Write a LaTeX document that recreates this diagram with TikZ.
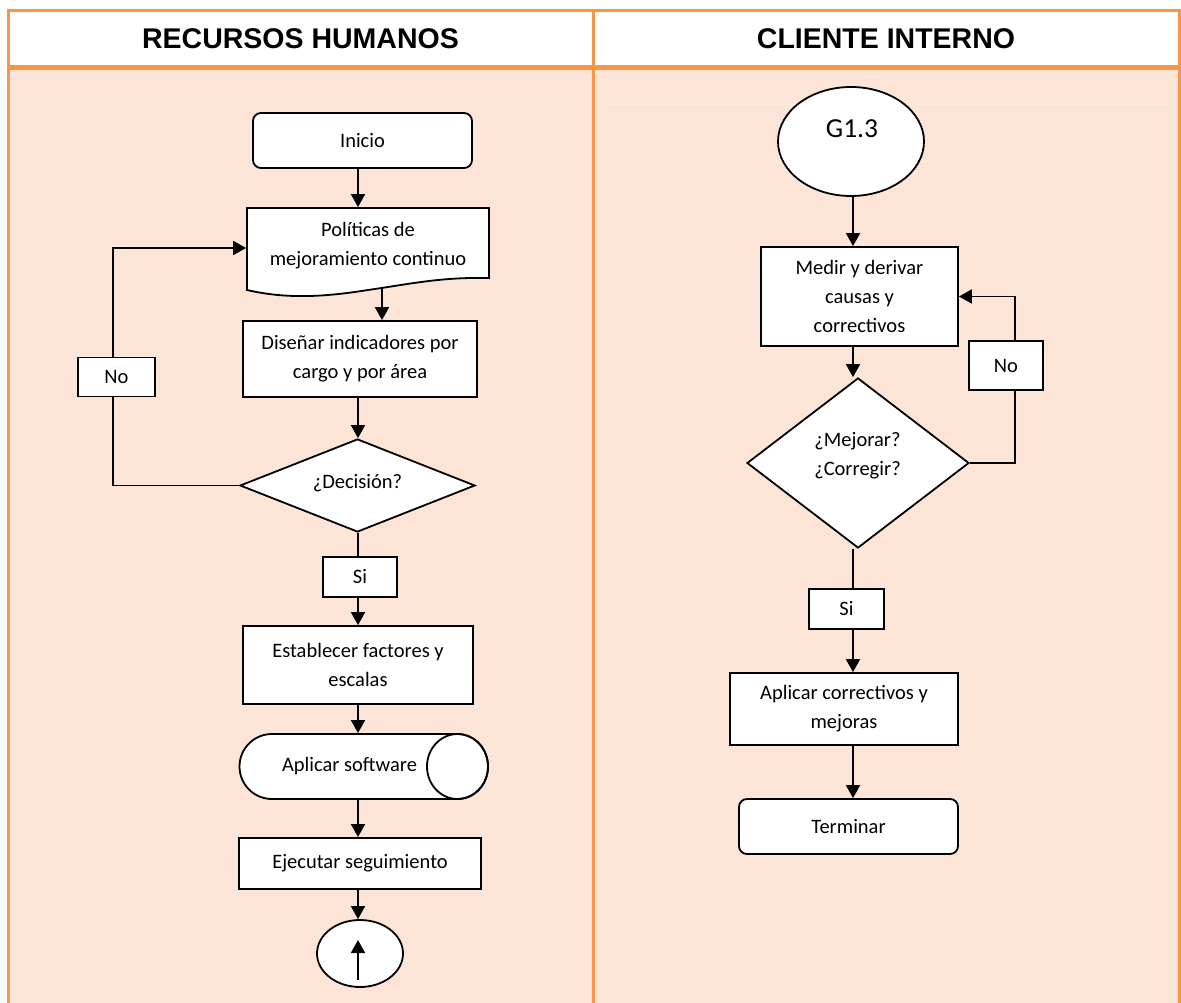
\documentclass[tikz,border=0pt]{standalone}
\usepackage{fontspec}
\setmainfont{Carlito}
\newfontfamily\hdrfont{Liberation Sans}
\usetikzlibrary{arrows.meta,shapes.geometric,calc}
\definecolor{orng}{HTML}{F79646}
\definecolor{peach}{HTML}{FCE4D6}
\definecolor{peachlt}{HTML}{FDEEE5}
\begin{document}
\begin{tikzpicture}[x=1pt,y=-1pt,line width=1.8pt,
  txt/.style={font=\fontsize{20.5}{29}\selectfont, align=center},
  box/.style={txt, draw, fill=white, rectangle, inner sep=0pt},
  rbox/.style={box, rounded corners=8pt},
  ghost/.style={rectangle, draw=none, inner sep=0pt},
  dia/.style={diamond, draw, fill=white, inner sep=0pt},
  ell/.style={ellipse, draw, fill=white, inner sep=0pt},
  arr/.style={-{Triangle[length=13pt,width=14pt]}},
  hdr/.style={font=\hdrfont\bfseries\fontsize{28.5}{32}\selectfont}]
\useasboundingbox (0,0) rectangle (1181,1003);
% table
\fill[white] (0,0) rectangle (1181,1003);
\fill[peach] (8,68) rectangle (1179,1003);
\draw[peachlt, line width=1pt] (607,105) -- (1167,105);
\draw[orng, line width=3pt] (8,1003) -- (8,11) -- (1179,11) -- (1179,1003);
\draw[orng, line width=3pt] (593,11) -- (593,1003);
\draw[orng, line width=5pt] (8,68) -- (1179,68);
\node[hdr] (h1) at (300.5,39) {RECURSOS HUMANOS};
\node[hdr] (h2) at (886,39) {CLIENTE INTERNO};

\coordinate (L) at (358,0);
\coordinate (R) at (853,0);

% ---------- left column ----------
\node[rbox, minimum width=219pt, minimum height=55pt] (ini) at (362.5,140.5) {Inicio};
\node[ghost, minimum width=242pt, minimum height=82pt] (pol) at (368,249) {};
\draw[fill=white] (247,208) -- (489,208) -- (489,278)
  .. controls (440,277) and (410,284) .. (368,290)
  .. controls (330,296) and (290,300) .. (247,290) -- cycle;
\node[txt] (polt) at (368,246) {Políticas de\\mejoramiento continuo};
\node[box, minimum width=234pt, minimum height=76pt] (dis) at (360,359) {Diseñar indicadores por\\cargo y por área};
\node[dia, minimum width=235pt, minimum height=93pt] (dec) at (357.5,485.5) {};
\node[txt] (dect) at (357.5,483) {¿Decisión?};
\node[box, minimum width=74pt, minimum height=40pt] (si1) at (360,577) {Si};
\node[box, minimum width=230pt, minimum height=78pt] (est) at (358,665) {Establecer factores y\\escalas};
\node[ghost, minimum width=249pt, minimum height=65pt] (soft) at (363.5,766.5) {};
\draw[fill=white] (272,734) -- (457.5,734)
  arc[start angle=-90, end angle=90, x radius=30.5, y radius=32.5]
  -- (272,799) arc[start angle=90, end angle=270, radius=32.5] -- cycle;
\draw (457.5,766.5) ellipse[x radius=30.5, y radius=32.5];
\node[txt] (softt) at (349.5,766.5) {Aplicar software};
\node[box, minimum width=242pt, minimum height=51pt] (eje) at (360,863.5) {Ejecutar seguimiento};
\node[ell, minimum width=86pt, minimum height=67pt] (con) at (360,953.5) {};
\coordinate (ca) at (358,980);
\coordinate (cb) at (358,940);
\draw[arr] (ca) -- (cb);
\node[box, minimum width=77pt, minimum height=39pt] (no1) at (116.5,377) {No};

\coordinate (lp) at (113,248);
\coordinate (polout) at (382,288);
\draw[arr] (ini.south -| L) -- (pol.north -| L);
\draw[arr] (polout) -- (polout |- dis.north);
\draw[arr] (dis.south -| L) -- (dec.north -| L);
\draw (dec.south -| L) -- (si1.north -| L);
\draw[arr] (si1.south -| L) -- (est.north -| L);
\draw[arr] (est.south -| L) -- (soft.north -| L);
\draw[arr] (soft.south -| L) -- (eje.north -| L);
\draw[arr] (eje.south -| L) -- (con.north -| L);
\draw (dec.west) -| (no1.south -| lp);
\draw[arr] (no1.north -| lp) |- (pol.west |- lp);

% ---------- right column ----------
\node[ell, minimum width=146pt, minimum height=109pt] (g13) at (851,141.5) {};
\node[font=\fontsize{27.5}{32}\selectfont] (g13t) at (852,129) {G1.3};
\node[box, minimum width=197pt, minimum height=99pt] (med) at (859.5,296.5) {Medir y derivar\\causas y\\correctivos};
\node[dia, minimum width=222pt, minimum height=170pt] (dec2) at (858,463) {};
\node[txt] (dec2t) at (857.5,456) {¿Mejorar?\\¿Corregir?};
\node[box, minimum width=74pt, minimum height=49pt] (no2) at (1006,365.5) {No};
\node[box, minimum width=75pt, minimum height=40pt] (si2) at (846.5,609) {Si};
\node[box, minimum width=228pt, minimum height=72pt] (apl) at (844,709) {Aplicar correctivos y\\mejoras};
\node[rbox, minimum width=219pt, minimum height=55pt] (ter) at (848.5,826.5) {Terminar};

\coordinate (rp) at (1015,296.5);
\draw[arr] (g13.south -| R) -- (med.north -| R);
\draw[arr] (med.south -| R) -- (dec2.north -| R);
\draw (dec2.south -| R) -- (si2.north -| R);
\draw[arr] (si2.south -| R) -- (apl.north -| R);
\draw[arr] (apl.south -| R) -- (ter.north -| R);
\draw (dec2.east) -| (no2.south -| rp);
\draw[arr] (no2.north -| rp) |- (med.east |- rp);
\end{tikzpicture}
\end{document}
